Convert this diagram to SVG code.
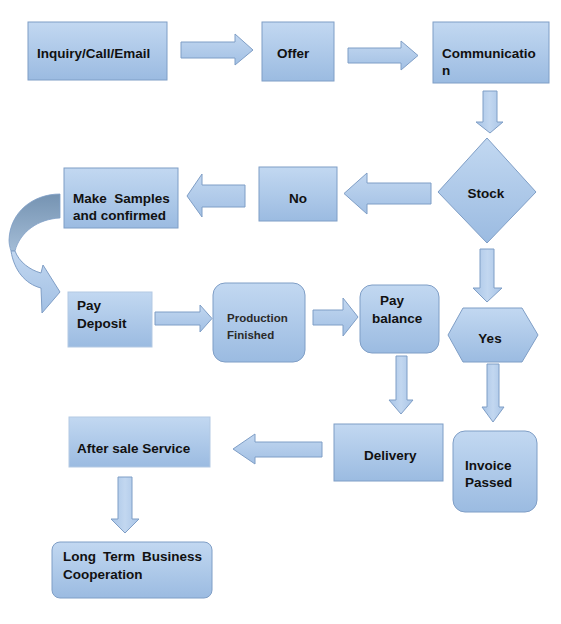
<svg xmlns="http://www.w3.org/2000/svg" width="561" height="624" viewBox="0 0 561 624">
<defs>
<linearGradient id="gBox" x1="0" y1="0" x2="0" y2="1">
<stop offset="0" stop-color="#c2d8f1"/>
<stop offset="1" stop-color="#9bbbe1"/>
</linearGradient>
<linearGradient id="gArrV" x1="0" y1="0" x2="1" y2="0">
<stop offset="0" stop-color="#a8c4e6"/>
<stop offset="0.5" stop-color="#c2d7f0"/>
<stop offset="1" stop-color="#a8c4e6"/>
</linearGradient>
<linearGradient id="gArrH" x1="0" y1="0" x2="0" y2="1">
<stop offset="0" stop-color="#c2d7f0"/>
<stop offset="1" stop-color="#a2c0e4"/>
</linearGradient>
<linearGradient id="gDark" x1="0" y1="0" x2="0" y2="1">
<stop offset="0" stop-color="#7593b2"/>
<stop offset="1" stop-color="#a3bcd6"/>
</linearGradient>
</defs>
<style>
.box{fill:url(#gBox);stroke:#7f9ec6;stroke-width:1}
.soft{fill:url(#gBox);stroke:#b3c9e3;stroke-width:1}
.ah{fill:url(#gArrH);stroke:#7f9ec6;stroke-width:1}
.av{fill:url(#gArrV);stroke:#7f9ec6;stroke-width:1}
.t{font-family:"Liberation Sans",Arial,sans-serif;font-size:13.5px;font-weight:bold;fill:#111}
.tr{font-family:"Liberation Sans",Arial,sans-serif;font-size:11.5px;font-weight:bold;fill:#2a2a2a}
</style>
<rect width="561" height="624" fill="#ffffff"/>
<g id="connectors">
<polygon class="ah" points="181,42 235,42 235,34 253,50 235,65 235,58 181,58"/>
<polygon class="ah" points="348,48 401,48 401,41 418,55.5 401,70 401,63 348,63"/>
<polygon class="av" points="483,91 497,91 497,122 503,122 490,133 476,122 483,122"/>
<polygon class="ah" points="431,183 367,183 367,173 344,193.5 367,214 367,204 431,204"/>
<polygon class="ah" points="245,185 202,185 202,174 187,196 202,217 202,207 245,207"/>
<g id="curved">
<path d="M60,194 C33,194 10,212 9,240 C9,244 10,248 11,251 L15,251 C20,232 38,219 60,218 Z" fill="url(#gDark)" stroke="#7f9ec6" stroke-width="0.8"/>
<path d="M11,251 C14,270 25,284 41,288 L42,313 L60,292 L43,265 L41,273 C30,270 19,262 15,251 Z" class="ah"/>
</g>
<polygon class="ah" points="155,312 200,312 200,305 212,318.5 200,332 200,325 155,325"/>
<polygon class="ah" points="313,310 343,310 343,298 358,317 343,336 343,325 313,325"/>
<polygon class="av" points="480,249 494,249 494,288 502,288 487,302 473,288 480,288"/>
<polygon class="av" points="396,356 407,356 407,400 413,400 401,414 389,400 396,400"/>
<polygon class="av" points="487,364 499,364 499,407 504,407 493,422 482,407 487,407"/>
<polygon class="ah" points="322,442 255,442 255,434 233,449 255,464 255,457 322,457"/>
<polygon class="av" points="118,477 132,477 132,519 139,519 125,533 111,519 118,519"/>
</g>
<g id="n-inquiry"><rect class="box" x="28" y="22" width="139" height="58"/><text class="t" x="37" y="58">Inquiry/Call/Email</text></g>
<g id="n-offer"><rect class="box" x="262" y="22" width="72" height="59"/><text class="t" x="277" y="58">Offer</text></g>
<g id="n-communication"><rect class="box" x="433" y="22" width="116" height="61"/><text class="t" x="442" y="58">Communicatio</text><text class="t" x="442" y="75">n</text></g>
<g id="n-stock"><polygon class="box" points="487,138 536,192 487,243 438,192"/><text class="t" x="486" y="198" text-anchor="middle">Stock</text></g>
<g id="n-no"><rect class="box" x="259" y="167" width="78" height="54"/><text class="t" x="289" y="203">No</text></g>
<g id="n-samples"><rect class="box" x="64" y="168" width="114" height="60"/><text class="t" x="73" y="203" xml:space="preserve">Make  Samples</text><text class="t" x="73" y="220">and confirmed</text></g>
<g id="n-deposit"><rect class="soft" x="68" y="292" width="84" height="55"/><text class="t" x="77" y="310">Pay</text><text class="t" x="77" y="328">Deposit</text></g>
<g id="n-production"><rect class="box" x="213" y="283" width="92" height="79" rx="12"/><text class="tr" x="227" y="322">Production</text><text class="tr" x="227" y="339">Finished</text></g>
<g id="n-balance"><rect class="box" x="360" y="285" width="79" height="68" rx="12"/><text class="t" x="380" y="305">Pay</text><text class="t" x="372" y="323">balance</text></g>
<g id="n-yes"><polygon class="box" points="448,335 463,308 522,308 538,335 522,362 463,362"/><text class="t" x="490" y="343" text-anchor="middle">Yes</text></g>
<g id="n-invoice"><rect class="box" x="453" y="431" width="84" height="81" rx="12"/><text class="t" x="465" y="470">Invoice</text><text class="t" x="465" y="487">Passed</text></g>
<g id="n-delivery"><rect class="box" x="334" y="424" width="109" height="57"/><text class="t" x="364" y="460">Delivery</text></g>
<g id="n-aftersale"><rect class="soft" x="69" y="417" width="141" height="50"/><text class="t" x="77" y="453">After sale Service</text></g>
<g id="n-longterm"><rect class="box" x="52" y="542" width="160" height="56" rx="8"/><text class="t" x="63" y="561" word-spacing="3.2">Long Term Business</text><text class="t" x="63" y="579">Cooperation</text></g>
</svg>
